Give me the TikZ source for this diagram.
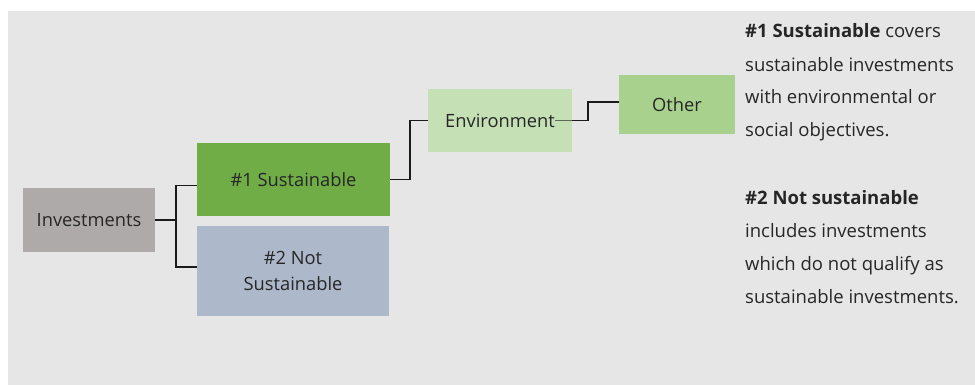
\documentclass[tikz,border=0pt]{standalone}
\usepackage{fontspec}
\setmainfont{Open Sans}
\definecolor{bg}{HTML}{E6E6E6}
\definecolor{invc}{HTML}{AEAAAA}
\definecolor{susc}{HTML}{70AD47}
\definecolor{nsusc}{HTML}{ADB9CA}
\definecolor{envc}{HTML}{C5E0B4}
\definecolor{othc}{HTML}{A9D18E}
\definecolor{txt}{HTML}{262626}
\definecolor{linec}{HTML}{1A1A1A}
\begin{document}
\begin{tikzpicture}[x=1pt,y=-1pt,
  box/.style={draw=none, inner sep=0pt, outer sep=0pt, align=center, text=txt,
    font=\fontsize{18.3}{26}\selectfont},
  conn/.style={line width=1.5pt, draw=linec},
  desc/.style={anchor=base west, align=left, inner sep=0pt, text=txt,
    font=\fontsize{18.5}{33}\selectfont}]
\useasboundingbox (0,0) rectangle (975,385);
\fill[white] (0,0) rectangle (975,385);
\fill[bg] (8,11) rectangle (975,385);

\node[box, fill=invc, minimum width=132pt, minimum height=64pt] (inv) at (89,220) {Investments};
\node[box, fill=susc, minimum width=193pt, minimum height=73pt] (sus) at (293.5,179.5) {\#1 Sustainable};
\node[box, fill=nsusc, minimum width=192pt, minimum height=90pt] (nsus) at (293,271) {\#2 Not\\Sustainable};
\node[box, fill=envc, minimum width=144pt, minimum height=63pt] (env) at (500,120.5) {};
\node[box] (envt) at (env.center) {Environment};
\node[box, fill=othc, minimum width=116pt, minimum height=59pt] (oth) at (677,104.5) {Other};

\draw[conn] (inv.east) -- ++(21,0) coordinate (j1) |- ([yshift=-6pt]sus.west);
\draw[conn] (j1) |- ([yshift=4pt]nsus.west);
\draw[conn] (sus.east) -- ++(20,0) |- (env.west);
\draw[line width=0.6pt, draw=linec!60!envc] (envt.east) -- (env.east);
\draw[conn] (env.east) -- ++(16,0) |- ([yshift=2.5pt]oth.west);

\node[desc] (d1) at (745,137) {\textbf{\#1 Sustainable} covers\\sustainable investments\\with environmental or\\social objectives.};
\node[desc] (d2) at (745,303) {\textbf{\#2 Not sustainable}\\includes investments\\which do not qualify as\\sustainable investments.};
\end{tikzpicture}
\end{document}
